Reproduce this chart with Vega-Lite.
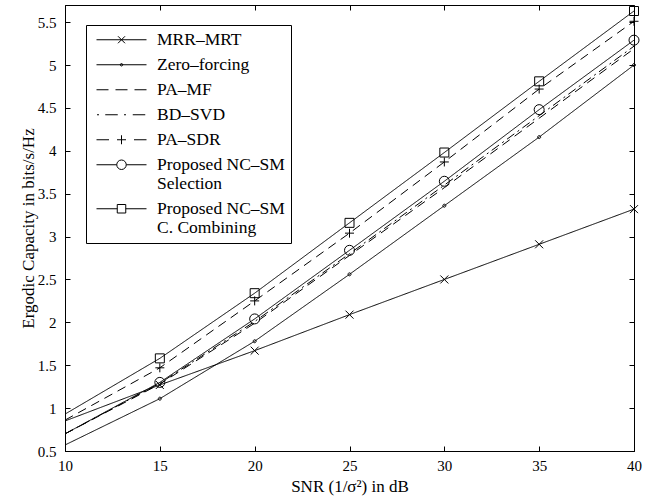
{
  "$schema": "https://vega.github.io/schema/vega-lite/v6.json",
  "width": 569,
  "height": 446,
  "autosize": {"type": "none"},
  "padding": {"left": 65, "top": 5, "right": 26, "bottom": 53},
  "background": "white",
  "config": {
    "view": {"stroke": "black", "strokeWidth": 1},
    "axis": {
      "labelFont": "Liberation Serif", "labelFontSize": 15, "labelColor": "black",
      "titleFont": "Liberation Serif", "titleFontSize": 17, "titleFontWeight": "normal", "titleColor": "black",
      "domainColor": "black", "tickColor": "black", "grid": false, "tickSize": -5, "labelFlush": false
    }
  },
  "data": {"values": [
    {"series": "MRR–MRT", "snr": 10, "cap": 0.85},
    {"series": "MRR–MRT", "snr": 15, "cap": 1.27},
    {"series": "MRR–MRT", "snr": 20, "cap": 1.67},
    {"series": "MRR–MRT", "snr": 25, "cap": 2.09},
    {"series": "MRR–MRT", "snr": 30, "cap": 2.50},
    {"series": "MRR–MRT", "snr": 35, "cap": 2.91},
    {"series": "MRR–MRT", "snr": 40, "cap": 3.32},
    {"series": "Zero–forcing", "snr": 10, "cap": 0.57},
    {"series": "Zero–forcing", "snr": 15, "cap": 1.11},
    {"series": "Zero–forcing", "snr": 20, "cap": 1.78},
    {"series": "Zero–forcing", "snr": 25, "cap": 2.56},
    {"series": "Zero–forcing", "snr": 30, "cap": 3.36},
    {"series": "Zero–forcing", "snr": 35, "cap": 4.16},
    {"series": "Zero–forcing", "snr": 40, "cap": 5.00},
    {"series": "PA–MF", "snr": 10, "cap": 0.70},
    {"series": "PA–MF", "snr": 15, "cap": 1.28},
    {"series": "PA–MF", "snr": 20, "cap": 1.99},
    {"series": "PA–MF", "snr": 25, "cap": 2.78},
    {"series": "PA–MF", "snr": 30, "cap": 3.57},
    {"series": "PA–MF", "snr": 35, "cap": 4.38},
    {"series": "PA–MF", "snr": 40, "cap": 5.19},
    {"series": "BD–SVD", "snr": 10, "cap": 0.70},
    {"series": "BD–SVD", "snr": 15, "cap": 1.29},
    {"series": "BD–SVD", "snr": 20, "cap": 2.01},
    {"series": "BD–SVD", "snr": 25, "cap": 2.80},
    {"series": "BD–SVD", "snr": 30, "cap": 3.60},
    {"series": "BD–SVD", "snr": 35, "cap": 4.41},
    {"series": "BD–SVD", "snr": 40, "cap": 5.22},
    {"series": "PA–SDR", "snr": 10, "cap": 0.86},
    {"series": "PA–SDR", "snr": 15, "cap": 1.47},
    {"series": "PA–SDR", "snr": 20, "cap": 2.25},
    {"series": "PA–SDR", "snr": 25, "cap": 3.04},
    {"series": "PA–SDR", "snr": 30, "cap": 3.87},
    {"series": "PA–SDR", "snr": 35, "cap": 4.72},
    {"series": "PA–SDR", "snr": 40, "cap": 5.51},
    {"series": "Proposed NC–SM Selection", "snr": 10, "cap": 0.70},
    {"series": "Proposed NC–SM Selection", "snr": 15, "cap": 1.30},
    {"series": "Proposed NC–SM Selection", "snr": 20, "cap": 2.04},
    {"series": "Proposed NC–SM Selection", "snr": 25, "cap": 2.84},
    {"series": "Proposed NC–SM Selection", "snr": 30, "cap": 3.645},
    {"series": "Proposed NC–SM Selection", "snr": 35, "cap": 4.48},
    {"series": "Proposed NC–SM Selection", "snr": 40, "cap": 5.29},
    {"series": "Proposed NC–SM C. Combining", "snr": 10, "cap": 0.93},
    {"series": "Proposed NC–SM C. Combining", "snr": 15, "cap": 1.58},
    {"series": "Proposed NC–SM C. Combining", "snr": 20, "cap": 2.34},
    {"series": "Proposed NC–SM C. Combining", "snr": 25, "cap": 3.16},
    {"series": "Proposed NC–SM C. Combining", "snr": 30, "cap": 3.98},
    {"series": "Proposed NC–SM C. Combining", "snr": 35, "cap": 4.81},
    {"series": "Proposed NC–SM C. Combining", "snr": 40, "cap": 5.63}
  ]},
  "layer": [
    {
      "mark": {"type": "line", "color": "black", "strokeWidth": 1},
      "encoding": {
        "x": {"field": "snr", "type": "quantitative", "scale": {"domain": [10, 40], "nice": false},
          "axis": {"orient": "bottom", "values": [10, 15, 20, 25, 30, 35, 40], "title": "SNR (1/σ²) in dB", "labelPadding": 12, "titlePadding": 5}},
        "y": {"field": "cap", "type": "quantitative", "scale": {"domain": [0.5, 5.7], "nice": false, "zero": false},
          "axis": {"orient": "left", "values": [0.5, 1, 1.5, 2, 2.5, 3, 3.5, 4, 4.5, 5, 5.5], "format": "~g", "title": "Ergodic Capacity in bits/s/Hz", "labelPadding": 14, "titlePadding": 0}},
        "detail": {"field": "series"},
        "strokeDash": {"field": "series", "type": "nominal", "legend": null,
          "scale": {"domain": ["MRR–MRT", "Zero–forcing", "PA–MF", "BD–SVD", "PA–SDR", "Proposed NC–SM Selection", "Proposed NC–SM C. Combining"],
            "range": [[1, 0], [1, 0], [9, 6], [9, 4, 2, 4], [9, 6], [1, 0], [1, 0]]}}
      }
    },
    {
      "transform": [
        {"filter": {"field": "series", "oneOf": ["MRR–MRT", "Zero–forcing", "PA–SDR", "Proposed NC–SM Selection", "Proposed NC–SM C. Combining"]}},
        {"filter": {"field": "snr", "gt": 10}}
      ],
      "mark": {"type": "point", "filled": false, "stroke": "black", "strokeWidth": 1, "size": 100, "opacity": 1},
      "encoding": {
        "x": {"field": "snr", "type": "quantitative", "axis": null},
        "y": {"field": "cap", "type": "quantitative", "axis": null},
        "shape": {"field": "series", "type": "nominal", "legend": null,
          "scale": {"domain": ["MRR–MRT", "Zero–forcing", "PA–SDR", "Proposed NC–SM Selection", "Proposed NC–SM C. Combining"],
            "range": [
              "M-0.8,-0.8L0.8,0.8M-0.8,0.8L0.8,-0.8",
              "M-0.3,0A0.3,0.3,0,1,0,0.3,0A0.3,0.3,0,1,0,-0.3,0Z",
              "M-0.9,0H0.9M0,-0.9V0.9",
              "M-1,0A1,1,0,1,0,1,0A1,1,0,1,0,-1,0Z",
              "M-0.9,-0.9H0.9V0.9H-0.9Z"
            ]}}
      }
    },
    {
      "mark": {"type": "point", "opacity": 0},
      "encoding": {
        "x": {"field": "snr", "type": "quantitative",
          "axis": {"orient": "top", "values": [10, 15, 20, 25, 30, 35, 40], "labels": false, "title": null, "domain": false}},
        "y": {"field": "cap", "type": "quantitative",
          "axis": {"orient": "right", "values": [0.5, 1, 1.5, 2, 2.5, 3, 3.5, 4, 4.5, 5, 5.5], "labels": false, "title": null, "domain": false}},
        "shape": {"field": "series", "type": "nominal",
          "scale": {"domain": ["MRR–MRT", "Zero–forcing", "PA–MF", "BD–SVD", "PA–SDR", "Proposed NC–SM Selection", "Proposed NC–SM C. Combining"],
            "range": [
              "M-1,0H1M-0.14,-0.14L0.14,0.14M-0.14,0.14L0.14,-0.14",
              "M-1,0H1M-0.05,0A0.05,0.05,0,1,0,0.05,0A0.05,0.05,0,1,0,-0.05,0Z",
              "M-1,0H-0.52M-0.24,0H0.24M0.52,0H1",
              "M-0.98,0H-0.9M-0.65,0H-0.15M0.1,0H0.18M0.45,0H0.95",
              "M-1,0H-0.5M-0.18,0H0.18M0,-0.18V0.18M0.5,0H1",
              "M-1,0H-0.19M0.19,0H1M-0.19,0A0.19,0.19,0,1,0,0.19,0A0.19,0.19,0,1,0,-0.19,0Z",
              "M-1,0H-0.17M0.17,0H1M-0.17,-0.17H0.17V0.17H-0.17Z"
            ]},
          "legend": {
            "orient": "none", "legendX": 21, "legendY": 20, "title": null,
            "strokeColor": "black", "fillColor": "white", "padding": 6,
            "labelFont": "Liberation Serif", "labelFontSize": 17.5, "labelColor": "black", "labelLimit": 400,
            "labelOffset": 10, "symbolOffset": 4, "rowPadding": 6, "clipHeight": 17.5,
            "symbolSize": 2500, "symbolStrokeWidth": 1, "symbolStrokeColor": "black", "symbolFillColor": "transparent",
            "labelExpr": "datum.label == 'Proposed NC–SM Selection' ? ['Proposed NC–SM', 'Selection'] : datum.label == 'Proposed NC–SM C. Combining' ? ['Proposed NC–SM', 'C. Combining'] : datum.label",
            "encode": {
              "symbols": {"update": {"opacity": {"value": 1}, "strokeOpacity": {"value": 1}, "stroke": {"value": "black"}, "size": {"value": 2500}}},
              "labels": {"update": {"lineHeight": {"value": 19.5}}},
              "legend": {"update": {"strokeWidth": {"value": 1.3}}}
            }
          }}
      }
    }
  ],
  "resolve": {"scale": {"shape": "independent"}, "axis": {"x": "independent", "y": "independent"}}
}
